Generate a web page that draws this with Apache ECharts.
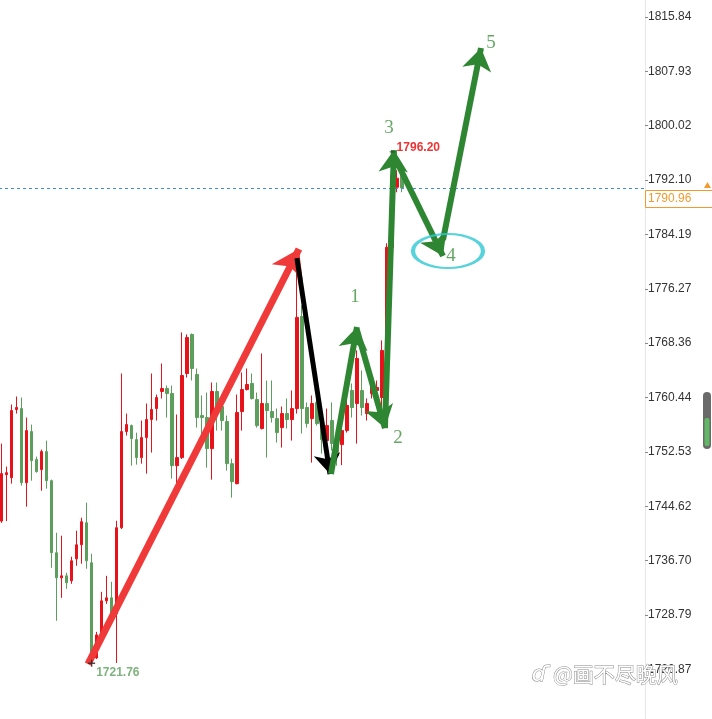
<!DOCTYPE html>
<html><head><meta charset="utf-8">
<script src="https://cdn.jsdelivr.net/npm/echarts@6/dist/echarts.min.js"></script>
<style>html,body{margin:0;padding:0;background:#fff}#c{width:712px;height:719px}</style>
</head><body><div id="c"></div>
<script>
// ---------- data ----------
const slotCount = 129; // bar slots on the time axis (81 candles + empty future space)
const opens  = [1742.46,1749.22,1748.78,1758.70,1758.84,1748.05,1755.49,1751.41,1749.95,1752.57,
                1748.34,1737.85,1734.20,1734.49,1733.77,1736.97,1739.01,1742.22,1736.39,1722.54,
                1726.04,1730.85,1731.29,1728.96,1741.49,1755.49,1756.36,1754.32,1751.70,1754.61,
                1757.24,1758.84,1761.32,1761.76,1761.03,1750.53,1751.70,1763.94,1769.63,1763.80,
                1757.82,1757.53,1753.01,1761.32,1759.13,1756.95,1750.82,1747.91,1758.40,1761.61,
                1762.49,1760.15,1755.93,1759.57,1758.40,1757.38,1756.07,1758.11,1757.24,1758.84,
                1772.25,1758.99,1757.38,1759.72,1756.65,1754.18,1757.09,1754.18,1753.59,1755.63,
                1761.47,1759.57,1761.47,1758.11,1761.03,1761.47,1760.45,1766.28,1782.31,1791.06,
                1792.81];
const closes = [1749.37,1749.51,1758.55,1758.99,1748.05,1755.63,1751.26,1749.66,1752.57,1748.34,
                1737.85,1734.20,1734.49,1733.48,1736.68,1739.01,1742.37,1736.68,1722.00,1725.89,
                1730.85,1731.29,1728.96,1741.49,1755.49,1756.51,1754.47,1751.70,1754.61,1757.24,
                1758.70,1760.45,1761.76,1761.03,1750.53,1751.70,1763.65,1769.19,1764.67,1757.53,
                1757.53,1753.01,1761.32,1758.26,1757.09,1750.82,1748.20,1758.26,1761.61,1762.34,
                1760.30,1756.36,1759.57,1758.55,1757.53,1755.34,1758.11,1757.24,1758.84,1772.11,
                1758.84,1756.65,1759.57,1756.65,1754.32,1756.36,1753.74,1751.99,1755.63,1759.28,
                1758.99,1766.13,1758.99,1759.57,1762.19,1761.90,1767.30,1782.31,1792.81,1792.37,
                1790.96];
const lows   = [1742.20,1742.46,1747.91,1758.11,1747.62,1744.56,1748.34,1749.51,1746.88,1747.18,
                1735.66,1727.94,1731.29,1732.60,1733.33,1735.95,1736.25,1735.52,1721.76,1722.39,
                1726.00,1730.41,1728.90,1721.81,1741.30,1754.91,1750.53,1750.68,1750.82,1749.37,
                1752.43,1757.09,1760.30,1757.53,1748.64,1746.45,1751.50,1763.36,1762.92,1756.07,
                1754.61,1750.24,1748.49,1755.63,1755.63,1749.80,1745.87,1747.80,1755.63,1761.47,
                1760.15,1756.07,1755.80,1751.70,1756.80,1753.89,1753.16,1755.93,1754.18,1758.11,
                1755.20,1756.07,1750.97,1756.36,1752.28,1751.99,1752.72,1750.53,1750.60,1755.34,
                1757.53,1753.74,1757.82,1757.09,1760.30,1760.74,1757.53,1765.84,1781.87,1790.33,
                1790.33];
const highs  = [1753.74,1750.39,1759.43,1760.59,1760.45,1757.53,1756.51,1751.84,1752.87,1754.18,
                1748.50,1740.76,1740.33,1734.93,1737.27,1741.06,1742.95,1745.14,1737.70,1726.33,
                1732.16,1734.49,1733.62,1742.51,1763.94,1758.11,1756.51,1755.34,1757.09,1759.57,
                1763.94,1760.88,1765.40,1762.19,1762.19,1757.97,1769.92,1769.63,1769.77,1764.67,
                1760.74,1761.17,1762.63,1762.63,1759.57,1757.82,1751.55,1760.88,1764.09,1764.67,
                1763.94,1761.17,1766.86,1762.92,1762.92,1758.84,1759.13,1760.30,1761.47,1780.42,
                1773.86,1759.72,1760.74,1760.45,1758.84,1758.84,1759.72,1755.63,1756.36,1760.30,
                1762.49,1767.30,1764.38,1760.30,1763.21,1762.92,1768.76,1782.90,1796.20,1793.54,
                1793.25];
const tickValues = [1720.87,1728.79,1736.70,1744.62,1752.53,1760.44,1768.36,1776.27,1784.19,1792.10,1800.02,1807.93,1815.84];
const lastPrice = 1790.96;
const highMark = [78, 1796.20];
const lowMark  = [18, 1721.76];
// annotation arrows, in [slot index, price]
const redArrow   = [[17.27,1721.65],[59.40,1782.06]];
const blackArrow = [[58.99,1780.75],[65.59,1749.31]];
const greenArrows = [
  [[65.79,1749.31],[70.98,1770.71]],
  [[70.98,1770.27],[76.57,1756.00]],
  [[76.57,1756.00],[78.37,1796.47]],
  [[78.77,1795.02],[88.16,1781.04]],
  [[88.16,1783.37],[95.75,1811.32]]
];
const waveLabels = [[70.58,1775.08,'1'],[79.17,1754.55,'2'],[77.37,1799.68,'3'],[89.76,1781.04,'4'],[97.74,1812.05,'5']];
const ringCenter = [89.16,1781.77];

// ---------- chart ----------
const categories = Array.from({length: slotCount}, (_, i) => String(i));
const candles = opens.map((o, i) => [o, closes[i], lows[i], highs[i]]);
const chart = echarts.init(document.getElementById('c'), null, {renderer: 'canvas'});
const RED = '#e8121b', GREEN = '#5c9e5c', WAVE = '#2e8633';

chart.setOption({
  animation: false,
  backgroundColor: '#fff',
  grid: {left: -1, right: 67, top: 0, bottom: 0, containLabel: false, outerBoundsMode: 'none'},
  xAxis: [
    {type: 'category', data: categories, show: false, boundaryGap: true},
    {type: 'value', min: -0.5, max: slotCount - 0.5, show: false}
  ],
  yAxis: {
    type: 'value', position: 'right', min: 1713.65, max: 1818.31,
    axisLine: {show: true, onZero: false, lineStyle: {color: '#e2e2e2', type: 'dotted'}},
    axisTick: {show: true, length: 3, lineStyle: {color: '#888'}, customValues: tickValues},
    axisLabel: {customValues: tickValues, formatter: v => v.toFixed(2), color: '#333', fontSize: 12,
                fontFamily: 'Liberation Sans', margin: 3},
    splitLine: {show: false}
  },
  series: [
    {
      type: 'candlestick', xAxisIndex: 0, yAxisIndex: 0, data: candles, barWidth: 3,
      itemStyle: {color: RED, color0: GREEN, borderColor: RED, borderColor0: GREEN, borderWidth: 1},
      markLine: {silent: true, symbol: ['none', 'none'], label: {show: false},
        lineStyle: {color: '#3b8fd8', type: [3, 3], width: 1}, data: [{yAxis: lastPrice}]}
    },
    {
      type: 'lines', coordinateSystem: 'cartesian2d', xAxisIndex: 1, yAxisIndex: 0, z: 5,
      symbol: ['none', 'arrow'], symbolSize: [17, 26],
      lineStyle: {color: '#f03a3a', width: 7, opacity: 1},
      data: [{coords: redArrow}]
    },
    {
      type: 'lines', coordinateSystem: 'cartesian2d', xAxisIndex: 1, yAxisIndex: 0, z: 5,
      symbol: ['none', 'arrow'], symbolSize: [12, 20],
      lineStyle: {color: '#000', width: 5, opacity: 1},
      data: [{coords: blackArrow}]
    },
    {
      type: 'lines', coordinateSystem: 'cartesian2d', xAxisIndex: 1, yAxisIndex: 0, z: 6,
      symbol: ['none', 'arrow'], symbolSize: [14, 22],
      lineStyle: {color: WAVE, width: 6, opacity: 1},
      data: greenArrows.map(c => ({coords: c}))
    },
    {
      type: 'scatter', xAxisIndex: 1, yAxisIndex: 0, z: 7,
      symbol: 'path://M0,50A50,50 0 1,1 100,50A50,50 0 1,1 0,50Z', symbolSize: [70, 34],
      itemStyle: {color: 'rgba(0,0,0,0)', borderColor: '#2ec8d2', borderWidth: 3},
      data: [ringCenter]
    },
    {
      type: 'scatter', xAxisIndex: 1, yAxisIndex: 0, z: 8, symbolSize: 0.1,
      itemStyle: {color: 'rgba(0,0,0,0)'},
      label: {show: true, position: 'inside', formatter: p => p.data[2], color: '#40903f',
              fontSize: 19, fontFamily: 'Liberation Serif'},
      data: waveLabels
    },
    {
      type: 'scatter', xAxisIndex: 0, yAxisIndex: 0, z: 8, symbol: 'rect', symbolSize: [5, 1],
      itemStyle: {color: '#333'},
      label: {show: true, position: 'right', distance: 2, offset: [0, -4], formatter: p => p.data[1].toFixed(2),
              color: '#e60000', fontWeight: 'bold', fontSize: 12, fontFamily: 'Liberation Sans'},
      data: [highMark]
    },
    {
      type: 'scatter', xAxisIndex: 0, yAxisIndex: 0, z: 8,
      symbol: 'path://M4,0H6V4H10V6H6V10H4V6H0V4H4Z', symbolSize: 7,
      itemStyle: {color: '#222'},
      label: {show: true, position: 'right', distance: 1, offset: [0, 9], formatter: p => p.data[1].toFixed(2),
              color: '#5c9e5c', fontWeight: 'bold', fontSize: 12, fontFamily: 'Liberation Sans'},
      data: [lowMark]
    }
  ]
});

const py = Math.round(chart.convertToPixel({yAxisIndex: 0}, lastPrice));
chart.setOption({
  graphic: [
    {type: 'rect', z: 100, shape: {x: 645.5, y: py + 2.5, width: 70, height: 17},
     style: {fill: '#fff', stroke: '#f39a2e', lineWidth: 1}},
    {type: 'text', z: 101, x: 648, y: py + 11, style: {text: lastPrice.toFixed(2), fill: '#f39a2e',
     font: '12px "Liberation Sans"', verticalAlign: 'middle'}},
    {type: 'polygon', z: 101, shape: {points: [[704, py], [711, py], [707.5, py - 6]]}, style: {fill: '#f39a2e'}},
    {type: 'rect', z: 100, shape: {x: 703, y: 392, width: 8, height: 57, r: 4}, style: {fill: '#6a6a6a'}},
    {type: 'rect', z: 101, shape: {x: 704.5, y: 418, width: 5, height: 28, r: 2}, style: {fill: '#62b866'}},
    {type: 'text', z: 110, x: 553, y: 664, style: {text: '@画不尽晚风', fill: '#fff', stroke: '#8a8a8a',
     lineWidth: 1, font: '21px "Noto Sans CJK SC"'}},
    {type: 'text', z: 110, x: 532, y: 664, style: {text: 'ɗ', fill: '#fff', stroke: '#8a8a8a',
     lineWidth: 1, font: 'italic 22px "DejaVu Sans"'}}
  ]
});
</script></body></html>
